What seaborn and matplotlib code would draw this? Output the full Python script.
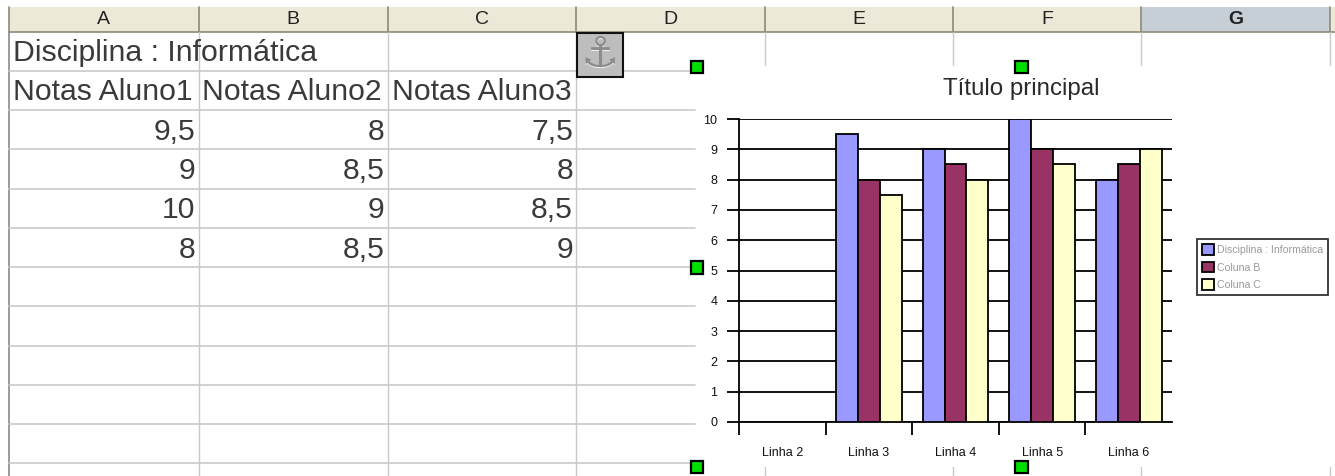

# Planilha com grafico de notas (Calc)
import numpy as np
import pandas as pd
import matplotlib
matplotlib.use("Agg")
import matplotlib.pyplot as plt
import matplotlib.patches as patches
import seaborn as sns

# data
colunas = ["A", "B", "C", "D", "E", "F", "G"]
titulo_planilha = "Disciplina : Informática"
cabecalhos = ["Notas Aluno1", "Notas Aluno2", "Notas Aluno3"]
notas_aluno1 = [9.5, 9, 10, 8]
notas_aluno2 = [8, 8.5, 9, 8.5]
notas_aluno3 = [7.5, 8, 8.5, 9]
linhas = ["Linha 2", "Linha 3", "Linha 4", "Linha 5", "Linha 6"]
series = ["Disciplina : Informática", "Coluna B", "Coluna C"]
cores = ["#9999FF", "#993366", "#FFFFCC"]
y_ticks = [0, 1, 2, 3, 4, 5, 6, 7, 8, 9, 10]

sns.set_theme(style="white")
plt.rcParams["font.family"] = ["Liberation Sans", "DejaVu Sans"]

W, H = 1335, 476
fig = plt.figure(figsize=(W / 100, H / 100), dpi=100, facecolor="white")

# the sheet is drawn in pixel coordinates
sheet = fig.add_axes([0, 0, 1, 1])
sheet.set_xlim(0, W)
sheet.set_ylim(H, 0)
sheet.axis("off")

col_x = [9, 198.5, 387.5, 576, 764.5, 953, 1141, 1330]
row_y = [32, 71, 110, 149, 188.5, 228, 267, 306, 345.5, 385, 424, 463]
grid_col = "#C9C9C9"

# header bar
sheet.add_patch(patches.Rectangle((col_x[0], 7), W - col_x[0], 25, fc="#ECE9D8", ec="none"))
sheet.add_patch(patches.Rectangle((col_x[6], 7), col_x[7] - col_x[6], 25, fc="#C6CFD6", ec="none"))
sheet.plot([col_x[0], W], [32, 32], color="#8E8A78", lw=1.2)
for x in col_x:
    sheet.plot([x, x], [7, 32], color="#8E8A78", lw=1.2)
for i, c in enumerate(colunas):
    sheet.text((col_x[i] + col_x[i + 1]) / 2, 20, c, ha="center", va="center", fontsize=14,
               color="#222222", fontweight="bold" if c == "G" else "normal")

# cell grid, the chart hides part of it
sheet.plot([col_x[0], col_x[0]], [32, H], color="#8A8A8A", lw=1.2)
for x in col_x[1:4]:
    sheet.plot([x, x], [32, H], color=grid_col, lw=1)
for x in col_x[4:]:
    sheet.plot([x, x], [32, 65], color=grid_col, lw=1)
    sheet.plot([x, x], [467, H], color=grid_col, lw=1)
for y in row_y[1:]:
    sheet.plot([col_x[0], 695], [y, y], color=grid_col, lw=1.2)

# cell text
txt_col = "#3A3A3A"
sheet.text(13, 53, titulo_planilha, fontsize=21.8, va="center", color=txt_col)
notas = [notas_aluno1, notas_aluno2, notas_aluno3]
for j in range(3):
    sheet.text(col_x[j] + 4, 92, cabecalhos[j], fontsize=21.7, va="center", ha="left", color=txt_col)
    for i, v in enumerate(notas[j]):
        s = f"{v:g}".replace(".", ",")
        sheet.text(col_x[j + 1] - 3, row_y[i + 2] + 22, s, fontsize=21.7, va="center", ha="right", color=txt_col)

# anchor button
sheet.add_patch(patches.Rectangle((577, 33), 46, 44, fc="#BDBDBD", ec="#111111", lw=1.5, zorder=4))
sheet.text(600.5, 56, "\u2693", fontsize=31, family="DejaVu Sans", ha="center", va="center", color="#F0F0F0", zorder=5)
sheet.text(600, 55, "\u2693", fontsize=31, family="DejaVu Sans", ha="center", va="center", color="#8C8C8C", zorder=5)

# green handles
for hx, hy in [(696.5, 66.5), (1021, 66.5), (696.5, 267), (696.5, 466.5), (1021, 466.5)]:
    sheet.add_patch(patches.Rectangle((hx - 6, hy - 6), 12.5, 12.5, fc="#00E000", ec="black", lw=1.6, zorder=6))

# chart
df = pd.DataFrame({
    "linha": linhas * 3,
    "serie": [series[0]] * 5 + [series[1]] * 5 + [series[2]] * 5,
    "nota": [np.nan] + notas_aluno1 + [np.nan] + notas_aluno2 + [np.nan] + notas_aluno3,
})

x0, x1, y0, y1 = 739, 1172, 422, 119
ax = fig.add_axes([x0 / W, 1 - y0 / H, (x1 - x0) / W, (y0 - y1) / H])
ax.patch.set_alpha(0)
sns.barplot(data=df, x="linha", y="nota", hue="serie", order=linhas, hue_order=series,
            palette=cores, saturation=1, width=0.76, gap=0, errorbar=None,
            edgecolor="black", linewidth=1.3, zorder=3, ax=ax)

ax.set_xlim(-0.5, 4.5)
ax.set_ylim(0, 10)
ax.set_xlabel("")
ax.set_ylabel("")
ax.set_yticks(y_ticks)
ax.set_xticks(range(len(linhas)))
ax.set_xticklabels(linhas)
ax.set_xticks(np.arange(-0.5, 4.0, 1), minor=True)
ax.tick_params(axis="x", which="major", length=0, pad=18, labelsize=9, colors="#111111")
ax.tick_params(axis="x", which="minor", length=9.5, width=1.3, color="black", bottom=True)
ax.tick_params(axis="y", length=8.5, width=1.3, color="black", left=True, labelsize=9, pad=7, labelcolor="#111111")
ax.grid(axis="y", color="black", lw=1.3, zorder=1)
ax.set_axisbelow(True)
for s in ["top", "right"]:
    ax.spines[s].set_visible(False)
for s in ["left", "bottom"]:
    ax.spines[s].set_color("black")
    ax.spines[s].set_linewidth(1.3)

fig.text(1021 / W, 1 - 89 / H, "Título principal", ha="center", va="center", fontsize=17.4, color="#2A2A2A")

ax.legend_.remove()
handles, labels = ax.get_legend_handles_labels()
leg = fig.legend(handles, labels, loc="upper left", bbox_to_anchor=(1197 / W, 1 - 239 / H),
                 fontsize=7.6, frameon=True, fancybox=False, edgecolor="black", facecolor="white",
                 labelcolor="#9A9A9A", handlelength=1.2, handleheight=1.2, handletextpad=0.25,
                 borderpad=0.45, labelspacing=0.65, borderaxespad=0)
leg.get_frame().set_linewidth(1.3)

fig.savefig("out.png", dpi=100)
